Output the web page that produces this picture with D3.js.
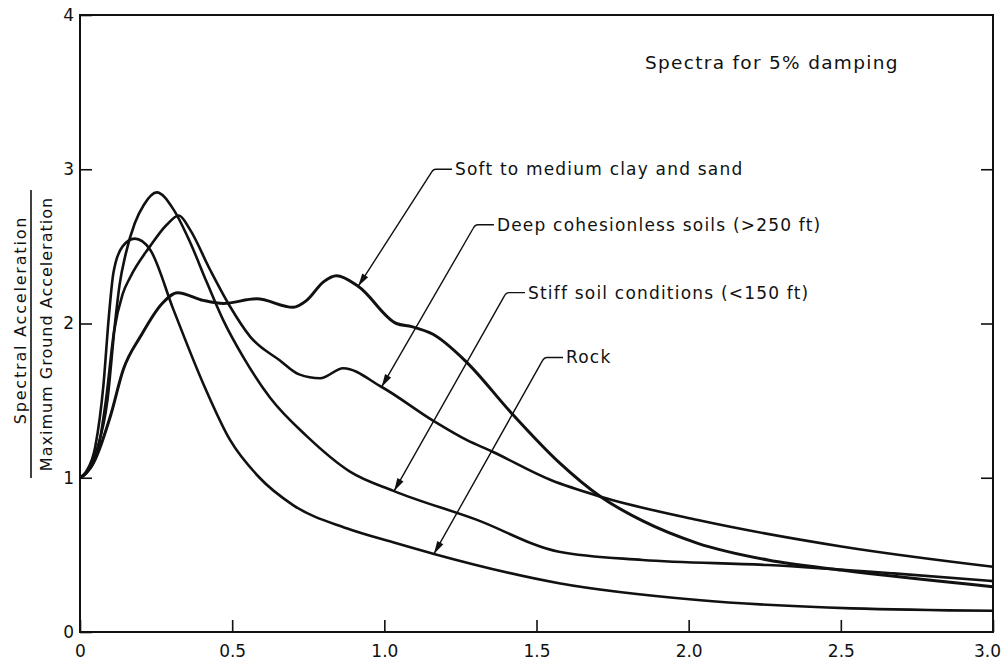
<!DOCTYPE html>
<html>
<head>
<meta charset="utf-8">
<script src="https://cdn.jsdelivr.net/npm/d3@7"></script>
<style>
body{margin:0;background:#fff;}
text{font-family:"DejaVu Sans",sans-serif;fill:#111;}
</style>
</head>
<body>
<div class="box"></div>
<script>
// period (s) vs spectral / max ground acceleration
const softClay=[[0,1.0],[0.02,1.03],[0.05,1.12],[0.1,1.4],[0.142,1.7],[0.2,1.92],[0.27,2.13],[0.32,2.2],[0.405,2.15],[0.471,2.13],[0.58,2.16],[0.70,2.105],[0.745,2.15],[0.8,2.27],[0.843,2.31],[0.915,2.24],[1.04,2.0],[1.09,1.98],[1.16,1.93],[1.27,1.75],[1.413,1.43],[1.574,1.10],[1.711,0.877],[1.849,0.72],[2.03,0.575],[2.26,0.467],[2.507,0.40],[3.0,0.294]];
const deepSoils=[[0,1.0],[0.02,1.03],[0.055,1.15],[0.085,1.5],[0.112,1.95],[0.14,2.19],[0.165,2.30],[0.23,2.5],[0.285,2.64],[0.325,2.70],[0.361,2.61],[0.427,2.35],[0.493,2.11],[0.559,1.915],[0.657,1.76],[0.72,1.67],[0.789,1.645],[0.865,1.71],[0.99,1.59],[1.16,1.37],[1.27,1.245],[1.354,1.17],[1.547,0.985],[1.711,0.877],[2.03,0.726],[2.507,0.553],[3.0,0.423]];
const stiffSoil=[[0,1.0],[0.02,1.03],[0.055,1.18],[0.09,1.5],[0.115,2.0],[0.13,2.25],[0.15,2.45],[0.18,2.65],[0.21,2.77],[0.252,2.85],[0.307,2.74],[0.361,2.53],[0.416,2.27],[0.471,2.02],[0.537,1.78],[0.624,1.52],[0.745,1.27],[0.887,1.04],[1.03,0.915],[1.3,0.73],[1.574,0.52],[1.849,0.467],[2.26,0.434],[2.673,0.38],[3.0,0.33]];
const rock=[[0,1.0],[0.02,1.04],[0.05,1.2],[0.077,1.6],[0.095,2.05],[0.11,2.33],[0.14,2.5],[0.18,2.55],[0.23,2.48],[0.307,2.09],[0.405,1.61],[0.493,1.245],[0.59,1.0],[0.70,0.823],[0.876,0.672],[1.04,0.575],[1.163,0.506],[1.574,0.316],[2.03,0.207],[2.536,0.153],[3.0,0.138]];

const xTicks=[0,0.5,1.0,1.5,2.0,2.5,3.0];
const xTickLabels=["0","0.5","1.0","1.5","2.0","2.5","3.0"];
const yTicks=[0,1,2,3,4];
const yTickLabels=["0","1","2","3","4"];

const curveNames=["Soft to medium clay and sand","Deep cohesionless soils (>250 ft)","Stiff soil conditions (<150 ft)","Rock"];
const curveData=[softClay,deepSoils,stiffSoil,rock];
// label anchor [period, ratio] and period where the arrow hits its curve
const labelAt=[[1.232,3.0],[1.37,2.64],[1.472,2.20],[1.597,1.78]];
const arrowAt=[0.914,0.991,1.032,1.163];

const dims={width:1005,height:669};
const svg=d3.select('.box')
    .append('svg')
    .attr('width',dims.width)
    .attr('height',dims.height);

const x=d3.scaleLinear().domain([0,3]).range([80,993]);
const y=d3.scaleLinear().domain([0,4]).range([632,15]);

// frame
svg.append('rect')
    .attr('x',x(0)).attr('y',y(4))
    .attr('width',x(3)-x(0)).attr('height',y(0)-y(4))
    .attr('fill','none').attr('stroke','#111').attr('stroke-width',2);

const xAxis=svg.append('g')
    .attr('transform',`translate(0,${y(0)})`)
    .call(d3.axisBottom(x).tickValues(xTicks)
        .tickFormat((d,i)=>xTickLabels[i])
        .tickSizeInner(-12).tickSizeOuter(0).tickPadding(13));
const yAxis=svg.append('g')
    .attr('transform',`translate(${x(0)},0)`)
    .call(d3.axisLeft(y).tickValues(yTicks)
        .tickFormat((d,i)=>yTickLabels[i])
        .tickSizeInner(-12).tickSizeOuter(0).tickPadding(6));
const rAxis=svg.append('g')
    .attr('transform',`translate(${x(3)},0)`)
    .call(d3.axisRight(y).tickValues([1,2,3]).tickFormat('')
        .tickSizeInner(-12).tickSizeOuter(0));
[xAxis,yAxis,rAxis].forEach(g=>{
    g.select('.domain').remove();
    g.selectAll('line').attr('stroke','#111').attr('stroke-width',1.6);
    g.selectAll('text').attr('font-size',17).attr('fill','#111')
        .style('font-family','"DejaVu Sans",sans-serif');
});
// last label sits inside the page edge
xAxis.selectAll('.tick').filter(d=>d===3).select('text').attr('dx',-6);

// y title as a fraction
const yt=svg.append('g');
yt.append('text')
    .attr('transform','translate(26,320) rotate(-90)')
    .attr('text-anchor','middle').attr('font-size',16)
    .attr('letter-spacing',1.8)
    .text('Spectral Acceleration');
yt.append('line')
    .attr('x1',31).attr('x2',31).attr('y1',190).attr('y2',478)
    .attr('stroke','#111').attr('stroke-width',1.6);
yt.append('text')
    .attr('transform','translate(52,334) rotate(-90)')
    .attr('text-anchor','middle').attr('font-size',16)
    .attr('letter-spacing',1)
    .text('Maximum Ground Acceleration');

svg.append('text')
    .attr('x',645).attr('y',69)
    .attr('font-size',18.5)
    .attr('letter-spacing',1.3)
    .text('Spectra for 5% damping');

const line=d3.line()
    .x(d=>x(d[0]))
    .y(d=>y(d[1]))
    .curve(d3.curveMonotoneX);

svg.append('g').selectAll('path')
    .data(curveData)
    .enter()
    .append('path')
    .attr('d',line)
    .attr('fill','none')
    .attr('stroke','#111')
    .attr('stroke-width',(d,i)=>i===0?3:2.6)
    .attr('stroke-linejoin','round');

const valueAt=(data,t)=>{
    const i=d3.bisector(d=>d[0]).left(data,t);
    if(i<=0) return data[0][1];
    const a=data[i-1],b=data[i];
    return a[1]+(b[1]-a[1])*(t-a[0])/(b[0]-a[0]);
};

const notes=svg.append('g');
curveNames.forEach((name,i)=>{
    const tx=x(labelAt[i][0]), ty=y(labelAt[i][1]);
    const px=x(arrowAt[i]), py=y(valueAt(curveData[i],arrowAt[i]));
    notes.append('text')
        .attr('x',tx).attr('y',ty+6)
        .attr('font-size',17)
        .attr('letter-spacing',1.2)
        .text(name);
    const bx=tx-22;
    notes.append('path')
        .attr('d',`M${tx-3},${ty} L${bx+3},${ty} Q${bx},${ty} ${bx-2},${ty+4} L${px},${py}`)
        .attr('fill','none').attr('stroke','#111').attr('stroke-width',1.4);
    // arrow head
    const ang=Math.atan2(py-(ty+4),px-(bx-2));
    const L=13,W=3.5;
    const ax=px-L*Math.cos(ang), ay=py-L*Math.sin(ang);
    notes.append('path')
        .attr('d',`M${px},${py} L${ax-W*Math.sin(ang)},${ay+W*Math.cos(ang)} L${ax+W*Math.sin(ang)},${ay-W*Math.cos(ang)} Z`)
        .attr('fill','#111');
});
</script>
</body>
</html>
